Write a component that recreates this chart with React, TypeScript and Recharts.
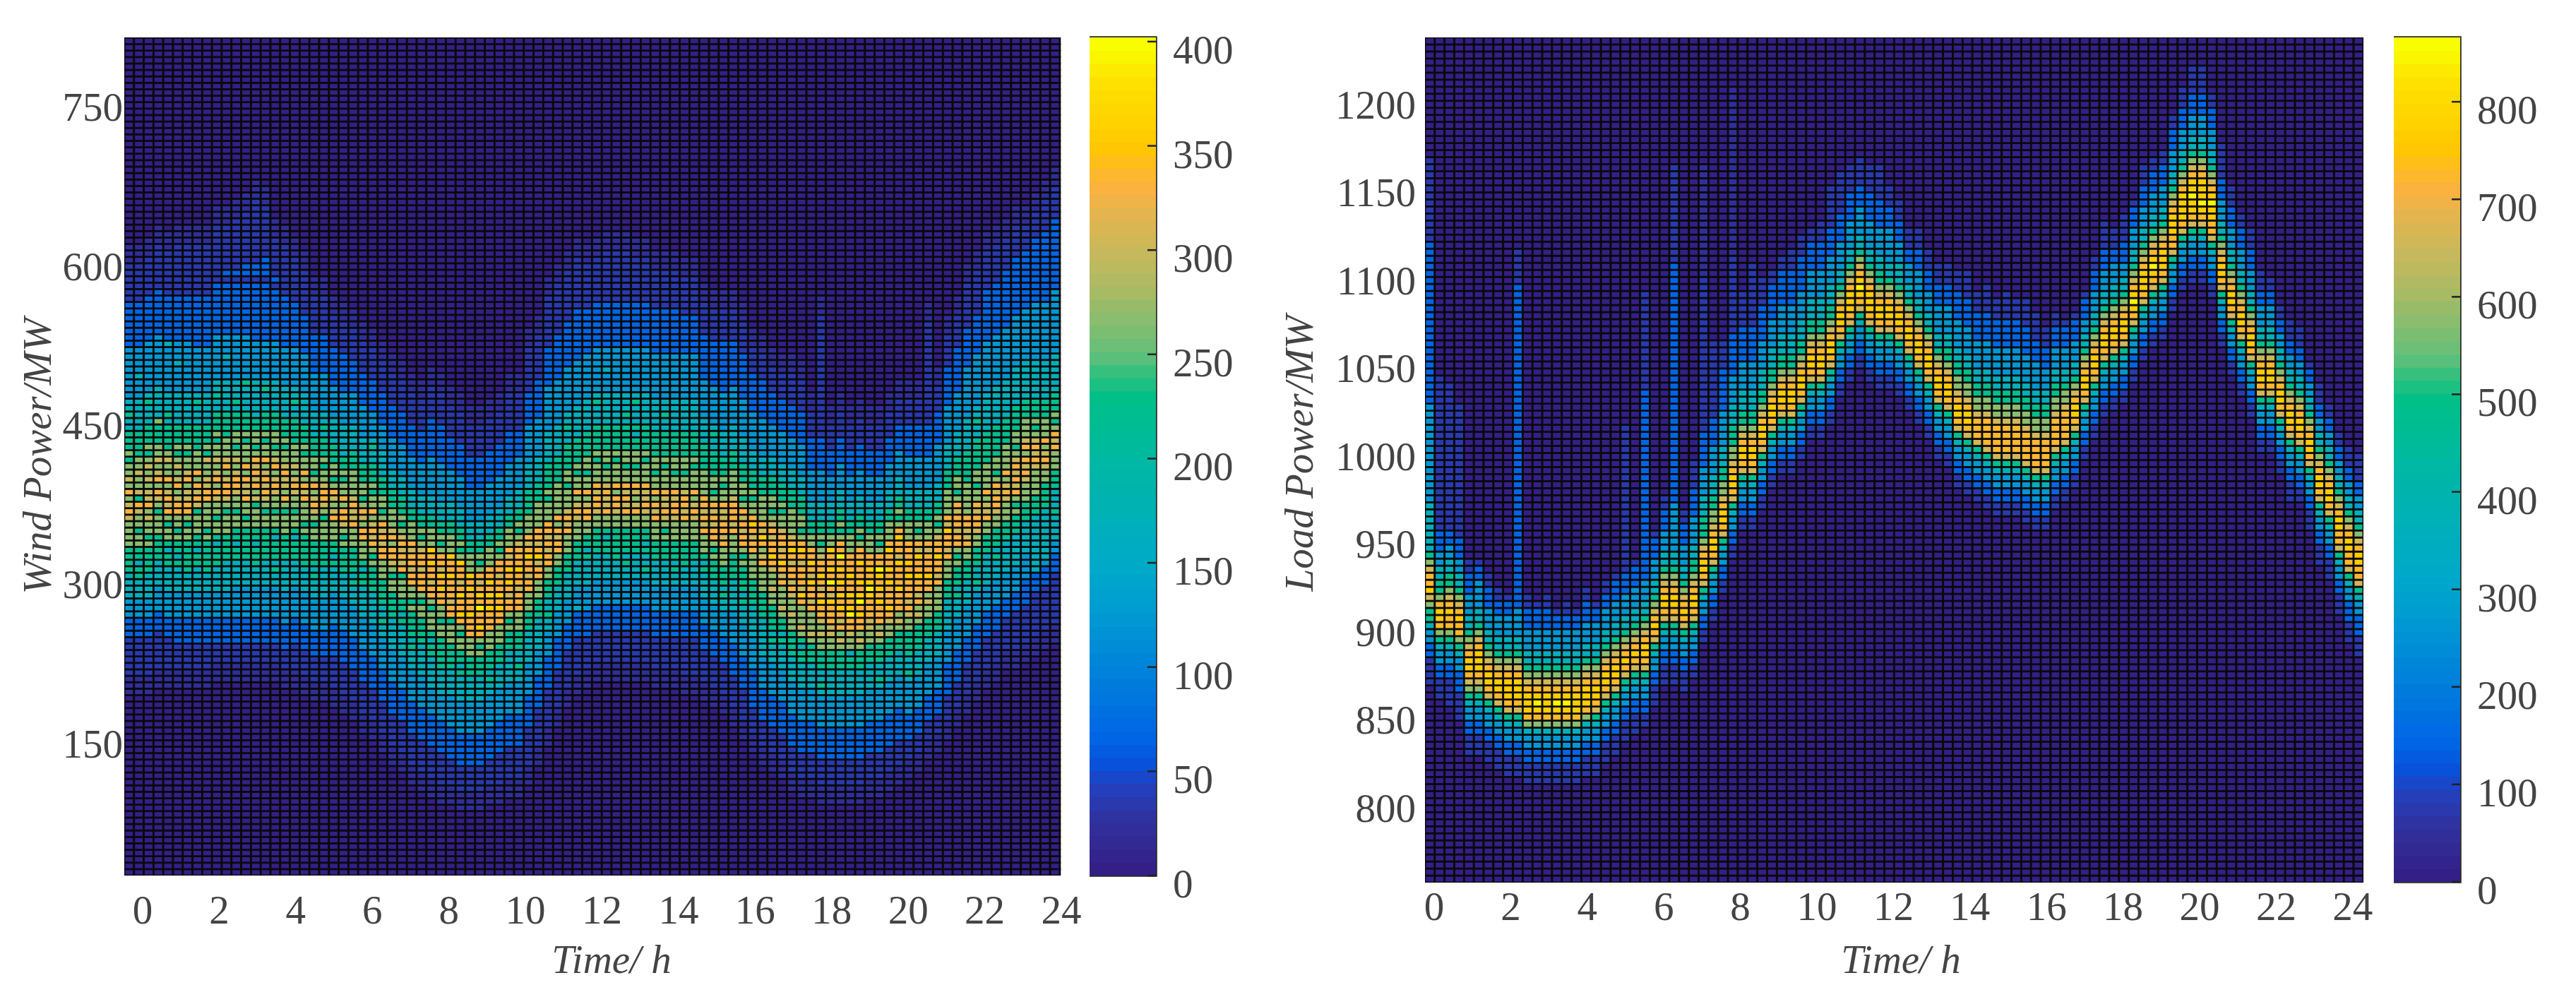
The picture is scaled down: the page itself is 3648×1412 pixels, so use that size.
import { ScatterChart, Scatter, XAxis, YAxis, ReferenceArea } from 'recharts';

// tick labels
const hourTicks = [0, 2, 4, 6, 8, 10, 12, 14, 16, 18, 20, 22, 24];
const windTicks = [150, 300, 450, 600, 750];
const loadTicks = [800, 850, 900, 950, 1000, 1050, 1100, 1150, 1200];
const windBarTicks = [0, 50, 100, 150, 200, 250, 300, 350, 400];
const loadBarTicks = [0, 100, 200, 300, 400, 500, 600, 700, 800];

// count per level digit used in the column strings below (b = the faint fringe)
const windLevels = [6, 36, 68, 120, 168, 224, 264, 300, 332, 356, 392, 20];
const loadLevels = [10, 78, 147, 260, 364, 486, 572, 650, 720, 771, 850, 42];

// one entry per time column: [first row from the bottom, level digits going up]
const windColumns: [number, string][] = [
  [28, 'bbb 111111 222 333 4444 5555 6666 78768 676656 555 44544 33333333 2222222 111111 bbb'],
  [28, 'bbb 111111 222 333 4445 5455 6656 67857 667665 555 44444 33343333 2222222 111111 bbb'],
  [28, 'bbb 111111 222 333 4444 5555 6566 768776 767656 555 44454 33333333 2222222 111111 bbb'],
  [29, 'bbb 111111 222 3333 4444 5555 6665 678687 67665 556 44444 33333333 2222222 1111111 bbb'],
  [29, 'bbb 11111 222 3333 4444 5545 6656 878768 66765 555 45444 33333334 2222222 1111111 bbb'],
  [29, 'bbb 1111 2222 3333 4444 5455 6566 887687 67656 555 44444 33334333 2222222 11111111 bbb'],
  [29, 'bbb 1111 2222 3333 4445 5555 6656 887768 76656 555 44444 33333333 2222222 11111111 bbb'],
  [29, 'bbb 1111 2222 3333 4444 5545 56665 787868 6665 555 44454 3333333 22222222 11111111 bbb'],
  [29, 'bbb 1111 2222 3333 4445 5555 65666 688776 6756 555 44444 3333333 22222222 11111111 bbb'],
  [30, 'bbb 111 2222 3333 44445 5545 66566 7868767 6656 555 44544 3333333 22222222 111111111 bbb'],
  [30, 'bbb 111 2222 3333 44444 5555 66656 7887687 6665 555 44444 3334333 22222222 121111111 bbb'],
  [30, 'bbb 111 2222 33333 4444 55455 6656 6788767 6566 555 45444 3333333 22222222 1211111111 bbb'],
  [30, 'bbb 111 2222 33333 4444 55555 6566 8778686 6656 555 44445 3333333 22222222 12211111111 bbb'],
  [30, 'bbb 111 2222 33333 4445 55455 6665 7687878 6566 554 44444 333333 222222222 1221111111111 bbb'],
  [30, 'bbb 111 2222 33333 4444 55555 6656 7878768 6656 555 44454 333333 222222222 122211111111 bbb'],
  [30, 'bbb 111 2222 33333 4454 55545 66566 787687 6566 555 44444 333333 22222222 12111111 bbb'],
  [29, 'bbb 111 2222 33333 44444 5555 66656 867787 6656 555 44444 333333 22222222 11111111 bbb'],
  [29, 'bbb 1111 2222 33333 4444 55545 66566 78767 6665 555 44544 333333 2222222 1111111 bbb'],
  [28, 'bbb 1111 2222 33333 4444 55555 65666 87868 6656 555 44444 333333 222222 1111111 bbb'],
  [27, 'bbb 1111 2222 33333 44454 5555 6656 78768 6566 555 4444 333333 222222 111111 bbb'],
  [27, 'bbb 1111 2222 33333 44444 5555 6665 67887 6656 555 4544 333333 222222 111111 bbb'],
  [26, 'bbb 11111 22222 33333 4444 5455 666 87678 6566 555 4444 33333 222222 11111 bbb'],
  [25, 'bbb 11111 22222 33333 4444 5555 656 78868 6656 554 4444 33333 222222 11111 bbb'],
  [24, 'bbb 11111 22222 33333 44454 5555 666 87787 6666 555 4444 33333 22222 11111 bbb'],
  [22, 'bbb 11111 22222 33333 44444 5545 666 88678 6566 555 4444 33333 22222 11111 bbb'],
  [21, 'bbb 11111 22222 33333 44444 5555 656 878768 6656 555 4454 3333 22222 11111 bbb'],
  [19, 'bbb 11111 22222 33333 44544 5555 666 887878 6566 555 4444 3333 22222 11111 bbb'],
  [17, 'bbb 11111 22222 33333 44444 5555 6656 788687 666 555 444 33333 22222 11111 bbb'],
  [16, 'bbb 11111 22222 33333 44444 5455 6665 878787 656 555 444 33333 22222 11111 bbb'],
  [14, 'bbb 11111 22222 33333 44454 5555 6566 8878878 666 55 444 33333 22222 11111 bbb'],
  [13, 'bbb 11111 22222 33333 44444 5555 6656 8887887 656 55 444 33333 22222 11111 bbb'],
  [12, 'bbb 11111 22222 3333 44444 5545 66656 88788989 666 55 444 333333 222222 11111 bbb'],
  [11, 'bbb 11111 22222 3333 44445 5555 66566 88989788 656 55 444 333333 222222 11111 bbb'],
  [11, 'bbb 1111 22222 33333 4444 5555 6665 8878889889 666 55 444 33333 22222 11111 bbb'],
  [10, 'bbb 1111 22222 33333 4444 5455 6656 8988987889 656 55 444 33333 22222 11111 bbb'],
  [10, 'bbb 1111 22222 33333 4444 555 666 8889888989 666 55 444 33333 22222 11111 bbb'],
  [10, 'bbb 1111 22222 33333 4444 555 656 8988a89878 656 55 444 33333 22222 11111 bbb'],
  [11, 'bbb 1111 22222 33333 4454 555 666 8889898988 666 55 444 33333 22222 11111 bbb'],
  [11, 'bbb 11111 22222 33333 4444 555 666 8898988788 656 55 444 33333 22222 11111 bbb'],
  [12, 'bbb 11111 22222 33333 44444 555 656 8878989878 666 55 444 33333 22222 111111 bbb'],
  [12, 'bbb 11111 22222 33333 44544 555 666 88878898887 656 55 444 33333 2222 111111 bbb'],
  [14, 'bbb 111111 22222 33333 44444 555 666 887889878 6665 555 4444 333333 22222 1111111 bbb'],
  [17, 'bbb 111111 22222 3333 44444 555 666 88798788 6666 555 4444 333333 222222 1111111 bbb'],
  [20, 'bbb 111111 22222 3333 44544 555 66 8878788 66656 5555 44444 3333333 222222 11111111 bbb'],
  [23, 'bbb 111111 22222 3333 4444 555 66 887868 66666 5555 44444 3333333 2222222 11111111 bbb'],
  [26, 'bbb 111111 2222 3333 4444 555 666 87876 66566 5555 44544 3333333 2222222 11111111 bbb'],
  [28, 'bbb 111111 2222 4333 4444 555 666 78768 6656 5555 44444 3333333 22222222 11111111 bbb'],
  [29, 'bbb 11111 2222 3333 4444 5455 66 88768 66566 5555 44444 3333333 2222222 1111111 bbb'],
  [30, 'bbb 11111 2222 3333 4444 5555 66 78878 66656 5555 44454 3333333 2222222 1111111 bbb'],
  [30, 'bbb 11111 2222 3333 4444 5545 66 87787 66566 5555 44444 3334333 2222222 11111111 bbb'],
  [30, 'bbb 11111 2222 3333 4445 5555 66 78868 66656 5555 44444 3333333 2222222 11111111 bbb'],
  [30, 'bbb 11111 2222 3333 4454 5555 66 87878 66566 5555 45444 3333333 2222222 11111111 bbb'],
  [30, 'bbb 11111 2222 3333 4444 5555 66 87678 66566 5545 44454 3333333 2222222 1111111 bbb'],
  [30, 'bbb 11111 2222 3333 4544 5455 66 78778 66656 5555 44444 3333333 2222222 1111111 bbb'],
  [29, 'bbb 11111 2222 3333 4444 555 666 87868 66566 5555 44444 3333333 2222222 111111 bbb'],
  [29, 'bbb 11111 2222 3333 4444 555 656 78778 66656 5555 44544 3333333 2222222 111111 bbb'],
  [29, 'bbb 11111 2222 3333 4454 555 666 78878 66566 5555 44444 3333333 2222222 111111 bbb'],
  [28, 'bbb 111111 2222 3333 4445 555 666 87887 66566 5555 44444 3333333 222222 111111 bbb'],
  [28, 'bbb 111111 2222 3333 4444 555 666 78768 66656 5555 44444 3333333 222222 111111 bbb'],
  [27, 'bbb 11111 2222 3333 4444 545 666 878788 6666 5555 4444 333333 2222222 11111 bbb'],
  [26, 'bbb 11111 2222 3333 4444 555 656 887878 6566 5555 4454 333333 2222222 11111 bbb'],
  [25, 'bbb 11111 2222 3333 4454 555 666 8788778 6656 555 4444 333333 22222222 11111 bbb'],
  [23, 'bbb 11111 22222 33333 44444 5555 666 878887 6666 555 4444 333333 2222222 11111 bbb'],
  [21, 'bbb 11111 22222 33333 44454 5555 656 887878 6566 555 4444 333333 2222222 11111 bbb'],
  [19, 'bbb 1111 222222 33333 44444 5555 6666 887898 6656 555 444 333333 222222 1111 bbb'],
  [17, 'bbb 1111 22222 33333 444444 5555 6666 8768978 6666 555 444 333333 222222 1111 bbb'],
  [16, 'bbb 1111 22222 33333 44454 5555 66766 78988787 6566 555 444 33333 22222 1111 bbb'],
  [15, 'bbb 1111 22222 33333 4444 5455 67666 878987887 6656 555 444 33333 22222 1111 bbb'],
  [13, 'bbb 1111 22222 33333 4444 5555 66766 7878878987 6666 555 444 33333 22222 11111 bbb'],
  [12, 'bbb 1111 22222 33333 4444 5545 67666 8978887898 6566 555 444 33333 22222 11111 bbb'],
  [12, 'bbb 1111 22222 33333 4444 555 6766 68788978988 66 55 444 33333 22222 1111 bbb'],
  [11, 'bbb 1111 22222 33333 4544 555 6676 7889878 9887 656 55 444 33333 22222 1111111111111111111 bbb'],
  [11, 'bbb 1111 22222 33333 4444 555 667 7888978a89889 66 55 444 3333 2222 1111 bbb'],
  [11, 'bbb 1111 22222 33333 4444 555 676 87898989898a88 656 55 444 3333 2222 1111 bbb'],
  [11, 'bbb 1111 22222 33333 4444 554 667 88a989889888 666 55 444 3333 2222 1111 bbb'],
  [11, 'bbb 1111 22222 33333 4444 555 676 8898a98988988 656 55 444 3333 2222 1111 bbb'],
  [12, 'bbb 1111 22222 33333 4444 555 667 78889a98988 666 55 444 3333 2222 1111 bbb'],
  [12, 'bbb 1111 22222 33333 4544 555 676 88898989a88 656 55 444 3333 2222 1111 bbb'],
  [13, 'bbb 1111 22222 33333 4444 555 667 898889898898 666 55 444 3333 2222 1111 bbb'],
  [14, 'bbb 1111 22222 33333 4444 555 676 8889888978898 656 55 444 3333 2222 1111 bbb'],
  [15, 'bbb 111 2222 33333 4544 5555 667 87888989888 666 55 444 33333 22222 1111 bbb'],
  [16, 'bbb 111 2222 33333 4444 5555 676 8788988978 656 55 444 33333 22222 1111 bbb'],
  [18, 'bbb 111 2222 33333 4444 555 6676 88988878 666 55 444 33333 22222 1111111111111111 bbb'],
  [19, 'bbb 111 2222 33333 4444 555 6666 87889887 656 55 444 333333 22222 1111 bbb'],
  [21, 'bbb 1111 22222 33333 44444 555 666 8788978 6666 555 4444 333333 222222 11111 bbb'],
  [23, 'bbb 1111 22222 33333 44454 555 656 8878878 6566 555 4444 333333 2222222 11111 bbb'],
  [25, 'bbb 11111 2222 33333 4444 555 66 87788 66666 55555 44444 33333333 222222 1111111 bbb'],
  [27, 'bbb 11111 2222 33333 4544 555 66 78878 66566 55555 44544 33333333 222222 1111111 bbb'],
  [29, 'bbb 11111 2222 3333 44444 555 66 87768 6666 55555 444444 33333333 22222222 111111 bbb'],
  [30, 'bbb 11111 2222 3333 44454 555 66 78878 6566 55555 444444 33333333 22222222 111111 bbb'],
  [32, 'bbb 11111 222 3333 44444 555 666 78768 6666 5555 444444 33333333 222222222 11111 bbb'],
  [32, 'bbb 111111 222 3333 44444 555 656 878787 6566 5555 444444 33333333 222222222 11111 bbb'],
  [33, 'bbb 111111 2222 3333 44444 555 666 7878687 666 555 444444 33333333 222222222 1111 bbb'],
  [34, 'bbb 1111111 222 4444 44444 555 666 678787 656 555 444444 333333333 2222222222 1111 bbb'],
  [35, 'bbb 1111111 222 34444 44445 555 66 78768 666 555 444444 333333333 22222222222 11111 bbb'],
  [36, 'bbb 11111111 222 33444 45444 555 66 6878 656 555 444444 3333333333 22222222222 11111 bbb'],
];

const loadColumns: [number, string][] = [
  [28, '111122334556798876544444443333333333333322222222222222222222222111111111111'],
  [26, '1112233456899865544332221111111111111111111111'],
  [25, '1111223345688987655443322111111111111111111111'],
  [23, '111122233456889876544332221111111111111111111'],
  [18, '1112233456789987654433322211'],
  [18, '1112233456789998765443333221'],
  [17, '111223345789987654433322211'],
  [16, '11122334578998765443332211'],
  [15, '11122334578999876544333221'],
  [15, '111223345789998765443333222222222222222222222222222222222222222222222211111'],
  [14, '111223346899987654433322211'],
  [14, '11122334689a98765443332221'],
  [14, '111223346899987654433322211'],
  [14, '11122334689a9876544333221'],
  [14, '11122334689a98765443332211'],
  [14, '1112233468999876544333221'],
  [15, '111223346899987654433322211'],
  [15, '1112233457899876544333221'],
  [17, '11122334578998765443332211'],
  [18, '11122334578998765443332221'],
  [20, '111223345789876544333222111111111111111111111'],
  [21, '1112233457898765443332221'],
  [22, '11223345789987654433322222222222222222222222222211111111111111'],
  [25, '1112233457898765443332221'],
  [28, '111223345789987654433322211'],
  [28, '11122334578998765443333333222222222222222222222222222222222211111111111111'],
  [27, '11122334578987654433322211'],
  [29, '1122334578998765544333322221111'],
  [34, '1122334578998765554443333222221111111111111111111111bbbbbbbbbbbbbbbb'],
  [37, '1122334578998766554443333222211111111111'],
  [41, '112233457899876655444333332222221111'],
  [46, '1122334578998766555444333322222211111111111bbbbbbbbbbbbbbbbbbbbbbbb'],
  [50, '1122334578998765544433332222211111'],
  [50, '11223345789987655444333322222111111111'],
  [53, '112233457899876554443333222221111'],
  [56, '1122334578998765544433332222211'],
  [58, '1122334578998765544433332222211'],
  [58, '11223345789987655444333322222111'],
  [60, '11223345789987655444333322222111'],
  [63, '112233457899876554443333222211'],
  [63, '1122334578998765544433332222111'],
  [65, '1122334578998765544433332222111111'],
  [69, '11223345789987654433332222111111'],
  [71, '1122334578999876544333322221111'],
  [73, '11223345789a987654433332221111'],
  [71, '1122334578999876544333322221111'],
  [70, '11223345789987655443333222211111'],
  [70, '11223345789987654433333222111'],
  [69, '1122334578998765444333222111'],
  [67, '11223345789987654433322111'],
  [65, '1122334578998765443333222111'],
  [63, '112233457899876544333222111'],
  [60, '1122334578998765443333222111'],
  [59, '11223345789987655443333222111'],
  [56, '1122334578998766554433332222111'],
  [55, '11223345789987665544333322221111'],
  [54, '112233457888766554433332222111'],
  [53, '11223345788887665544333322221111'],
  [52, '1122334578888766554433332222111'],
  [52, '11223345788887665544333322221111'],
  [52, '1122334578888766554433332222111'],
  [51, '11223345788887665544333322221111'],
  [50, '1122334578888766554433332221111'],
  [50, '11223345788887665544333222111'],
  [53, '1122334578888766554433322211'],
  [54, '11223345788887665443332221'],
  [56, '1122334578998765443332221'],
  [60, '112233457899876544332221'],
  [63, '11223345789987654433322211'],
  [66, '1122334578998765443332221111'],
  [67, '11223345789987654433322111'],
  [68, '112233457899876544332221111'],
  [71, '11223345789a98765443332221'],
  [74, '1122334578999876544333222111'],
  [76, '11223345789a987654433322211'],
  [77, '112233457899987654433322211'],
  [81, '1122334578899987654433322211'],
  [84, '11223345789999876544333222111'],
  [85, '112233457899a998765443332221111'],
  [85, '11223345789a9998765443332221111'],
  [83, '1122334578899a987654433322211'],
  [76, '11223345789987654433322211111'],
  [72, '112233457899876544333222111'],
  [69, '11223345789987654433322211'],
  [66, '112233457899876544333222111'],
  [61, '11223345789987654433322111'],
  [61, '1122334578998765443332211'],
  [58, '112233457899876544332211'],
  [54, '11122334578998765443322111'],
  [54, '1122334578998765443322111'],
  [50, '111223345789987654433221'],
  [45, '11122334578998765443322111'],
  [43, '1112233457899876544332211'],
  [38, '11122334578899876544332211'],
  [34, '1112223345788998765443322111'],
  [32, '11122233457889987654433221111'],
];

// parula-like colormap as it looks in the figure
const colorStops: [number, string][] = [
  [0, '#341f86'], [0.06, '#30329f'], [0.1, '#2340bd'], [0.125, '#0a50d8'], [0.16, '#0066e6'],
  [0.25, '#0085d8'], [0.32, '#009ed0'], [0.375, '#00abc6'], [0.45, '#00b3b0'], [0.5, '#00b9a0'],
  [0.57, '#00bf88'], [0.6, '#30c07e'], [0.625, '#64c07a'], [0.7, '#a8ba64'], [0.75, '#c9b85c'],
  [0.8, '#e8b44c'], [0.83, '#feb23c'], [0.875, '#ffc800'], [0.95, '#ffe000'], [1, '#f8ff00'],
];

const hex = (c: string, i: number) => parseInt(c.slice(1 + i * 2, 3 + i * 2), 16);

const colorFor = (fraction: number) => {
  const t = Math.min(0.999, Math.floor(fraction * 64) / 63);
  let k = 0;
  while (k < colorStops.length - 2 && t > colorStops[k + 1][0]) k++;
  const [t0, c0] = colorStops[k];
  const [t1, c1] = colorStops[k + 1];
  const f = (t - t0) / (t1 - t0);
  const mix = [0, 1, 2].map((i) => Math.round(hex(c0, i) + (hex(c1, i) - hex(c0, i)) * f));
  return `rgb(${mix[0]},${mix[1]},${mix[2]})`;
};

const FONT = '"Liberation Serif", serif';
const INK = '#444444';

const buildCells = (
  columns: [number, string][],
  levels: number[],
  rowCount: number,
  xMin: number,
  xBin: number,
  yMin: number,
  yBin: number,
) => {
  const cells: { x: number; y: number; count: number }[] = [];
  columns.forEach(([start, text], col) => {
    const digits = text.replace(/ /g, '');
    for (let row = 0; row < rowCount; row++) {
      const ch = digits[row - start];
      const level = row >= start && ch ? parseInt(ch, 36) : 0;
      cells.push({ x: xMin + (col + 0.5) * xBin, y: yMin + (row + 0.5) * yBin, count: levels[level] });
    }
  });
  return cells;
};

const AxisTitle = ({ px, py, vertical, text }: any) => (
  <text
    x={px}
    y={py}
    transform={vertical ? `rotate(-90 ${px} ${py})` : undefined}
    textAnchor="middle"
    fontFamily={FONT}
    fontStyle="italic"
    fontSize={57}
    fill={INK}
  >
    {text}
  </text>
);

const HourTick = ({ x, y, payload, drop }: any) => (
  <text x={x} y={y + drop} textAnchor="middle" fontFamily={FONT} fontSize={57} fill={INK}>
    {payload.value}
  </text>
);

const ValueTick = ({ x, y, payload, gap }: any) => (
  <text x={x - gap} y={y + 31} textAnchor="end" fontFamily={FONT} fontSize={57} fill={INK}>
    {payload.value}
  </text>
);

const BarTick = ({ x, y, payload }: any) => (
  <g>
    <line x1={x - 12} x2={x} y1={y} y2={y} stroke="#222222" strokeWidth={2.5} />
    <text x={x + 24} y={y + 31} fontFamily={FONT} fontSize={57} fill={INK}>
      {payload.value}
    </text>
  </g>
);

const HeatPanel = ({ left, width, axisWidth, xAxisHeight, marginRight, xDomain, yDomain, yTicks, cells, max, cellW, cellH, title, titleX, titleY, tickDrop, tickGap }: any) => {
  const renderCell = (props: any) => (
    <rect
      x={props.cx - cellW / 2}
      y={props.cy - cellH / 2}
      width={cellW}
      height={cellH}
      fill={colorFor(props.payload.count / max)}
      stroke="#0a0a0a"
      strokeWidth={2.7}
    />
  );
  return (
    <div style={{ position: 'absolute', left, top: 0 }}>
      <ScatterChart width={width} height={1412} margin={{ top: 53, right: marginRight, bottom: 0, left: 0 }}>
        <XAxis
          type="number"
          dataKey="x"
          domain={xDomain}
          ticks={hourTicks}
          interval={0}
          allowDataOverflow
          axisLine={false}
          tickLine={false}
          tickSize={0}
          tickMargin={0}
          height={xAxisHeight}
          tick={<HourTick drop={tickDrop} />}
          label={<AxisTitle px={titleX} py={1378} text="Time/ h" />}
        />
        <YAxis
          type="number"
          dataKey="y"
          domain={yDomain}
          ticks={yTicks}
          interval={0}
          allowDataOverflow
          axisLine={false}
          tickLine={false}
          tickSize={0}
          tickMargin={0}
          width={axisWidth}
          tick={<ValueTick gap={tickGap} />}
          label={<AxisTitle px={titleY[0]} py={titleY[1]} vertical text={title} />}
        />
        <Scatter data={cells} shape={renderCell} isAnimationActive={false} />
      </ScatterChart>
    </div>
  );
};

const ColorBar = ({ left, bottomGap, max, ticks }: any) => {
  const bandHeight = (1412 - 53 - bottomGap) / 64;
  const bands = Array.from({ length: 64 }, (_, i) => ({ x: 0.5, y: ((i + 0.5) * max) / 64 }));
  const renderBand = (props: any) => (
    <rect
      x={props.cx - 47}
      y={props.cy - bandHeight / 2 - 0.5}
      width={94}
      height={bandHeight + 1}
      fill={colorFor(props.payload.y / max)}
    />
  );
  return (
    <div style={{ position: 'absolute', left, top: 0 }}>
      <ScatterChart width={264} height={1412} margin={{ top: 53, right: 0, bottom: bottomGap, left: 0 }}>
        <XAxis type="number" dataKey="x" domain={[0, 1]} hide />
        <YAxis
          type="number"
          dataKey="y"
          orientation="right"
          domain={[0, max]}
          ticks={ticks}
          interval={0}
          allowDataOverflow
          axisLine={false}
          tickLine={false}
          tickSize={0}
          tickMargin={0}
          width={170}
          tick={<BarTick />}
        />
        <Scatter data={bands} shape={renderBand} isAnimationActive={false} />
        <ReferenceArea x1={0} x2={1} y1={0} y2={max} fill="none" stroke="#2a2a2a" strokeWidth={3.5} ifOverflow="visible" />
      </ScatterChart>
    </div>
  );
};

const windCells = buildCells(windColumns, windLevels, 130, -0.48, 0.2546, 18, 6.075);
const loadCells = buildCells(loadColumns, loadLevels, 120, -0.24, 0.2554, 753, 4.006);

export default function App() {
  return (
    <div style={{ position: 'absolute', left: 0, top: 0, width: 3648, height: 1412, background: '#ffffff', overflow: 'hidden' }}>
      <HeatPanel
        left={0}
        width={1560}
        axisWidth={176}
        xAxisHeight={172}
        marginRight={57}
        xDomain={[-0.48, 24]}
        yDomain={[18, 808]}
        yTicks={windTicks}
        cells={windCells}
        max={402}
        cellW={13.8}
        cellH={9.13}
        title="Wind Power/MW"
        titleX={866}
        titleY={[72, 646]}
        tickDrop={68}
        tickGap={2}
      />
      <ColorBar left={1543} bottomGap={172} max={402} ticks={windBarTicks} />
      <HeatPanel
        left={1640}
        width={1760}
        axisWidth={378}
        xAxisHeight={162}
        marginRight={53}
        xDomain={[-0.24, 24.28]}
        yDomain={[753, 1233.7]}
        yTicks={loadTicks}
        cells={loadCells}
        max={866}
        cellW={13.84}
        cellH={9.975}
        title="Load Power/MW"
        titleX={1052}
        titleY={[219, 642]}
        tickDrop={53}
        tickGap={13}
      />
      <ColorBar left={3390} bottomGap={163} max={866} ticks={loadBarTicks} />
    </div>
  );
}
